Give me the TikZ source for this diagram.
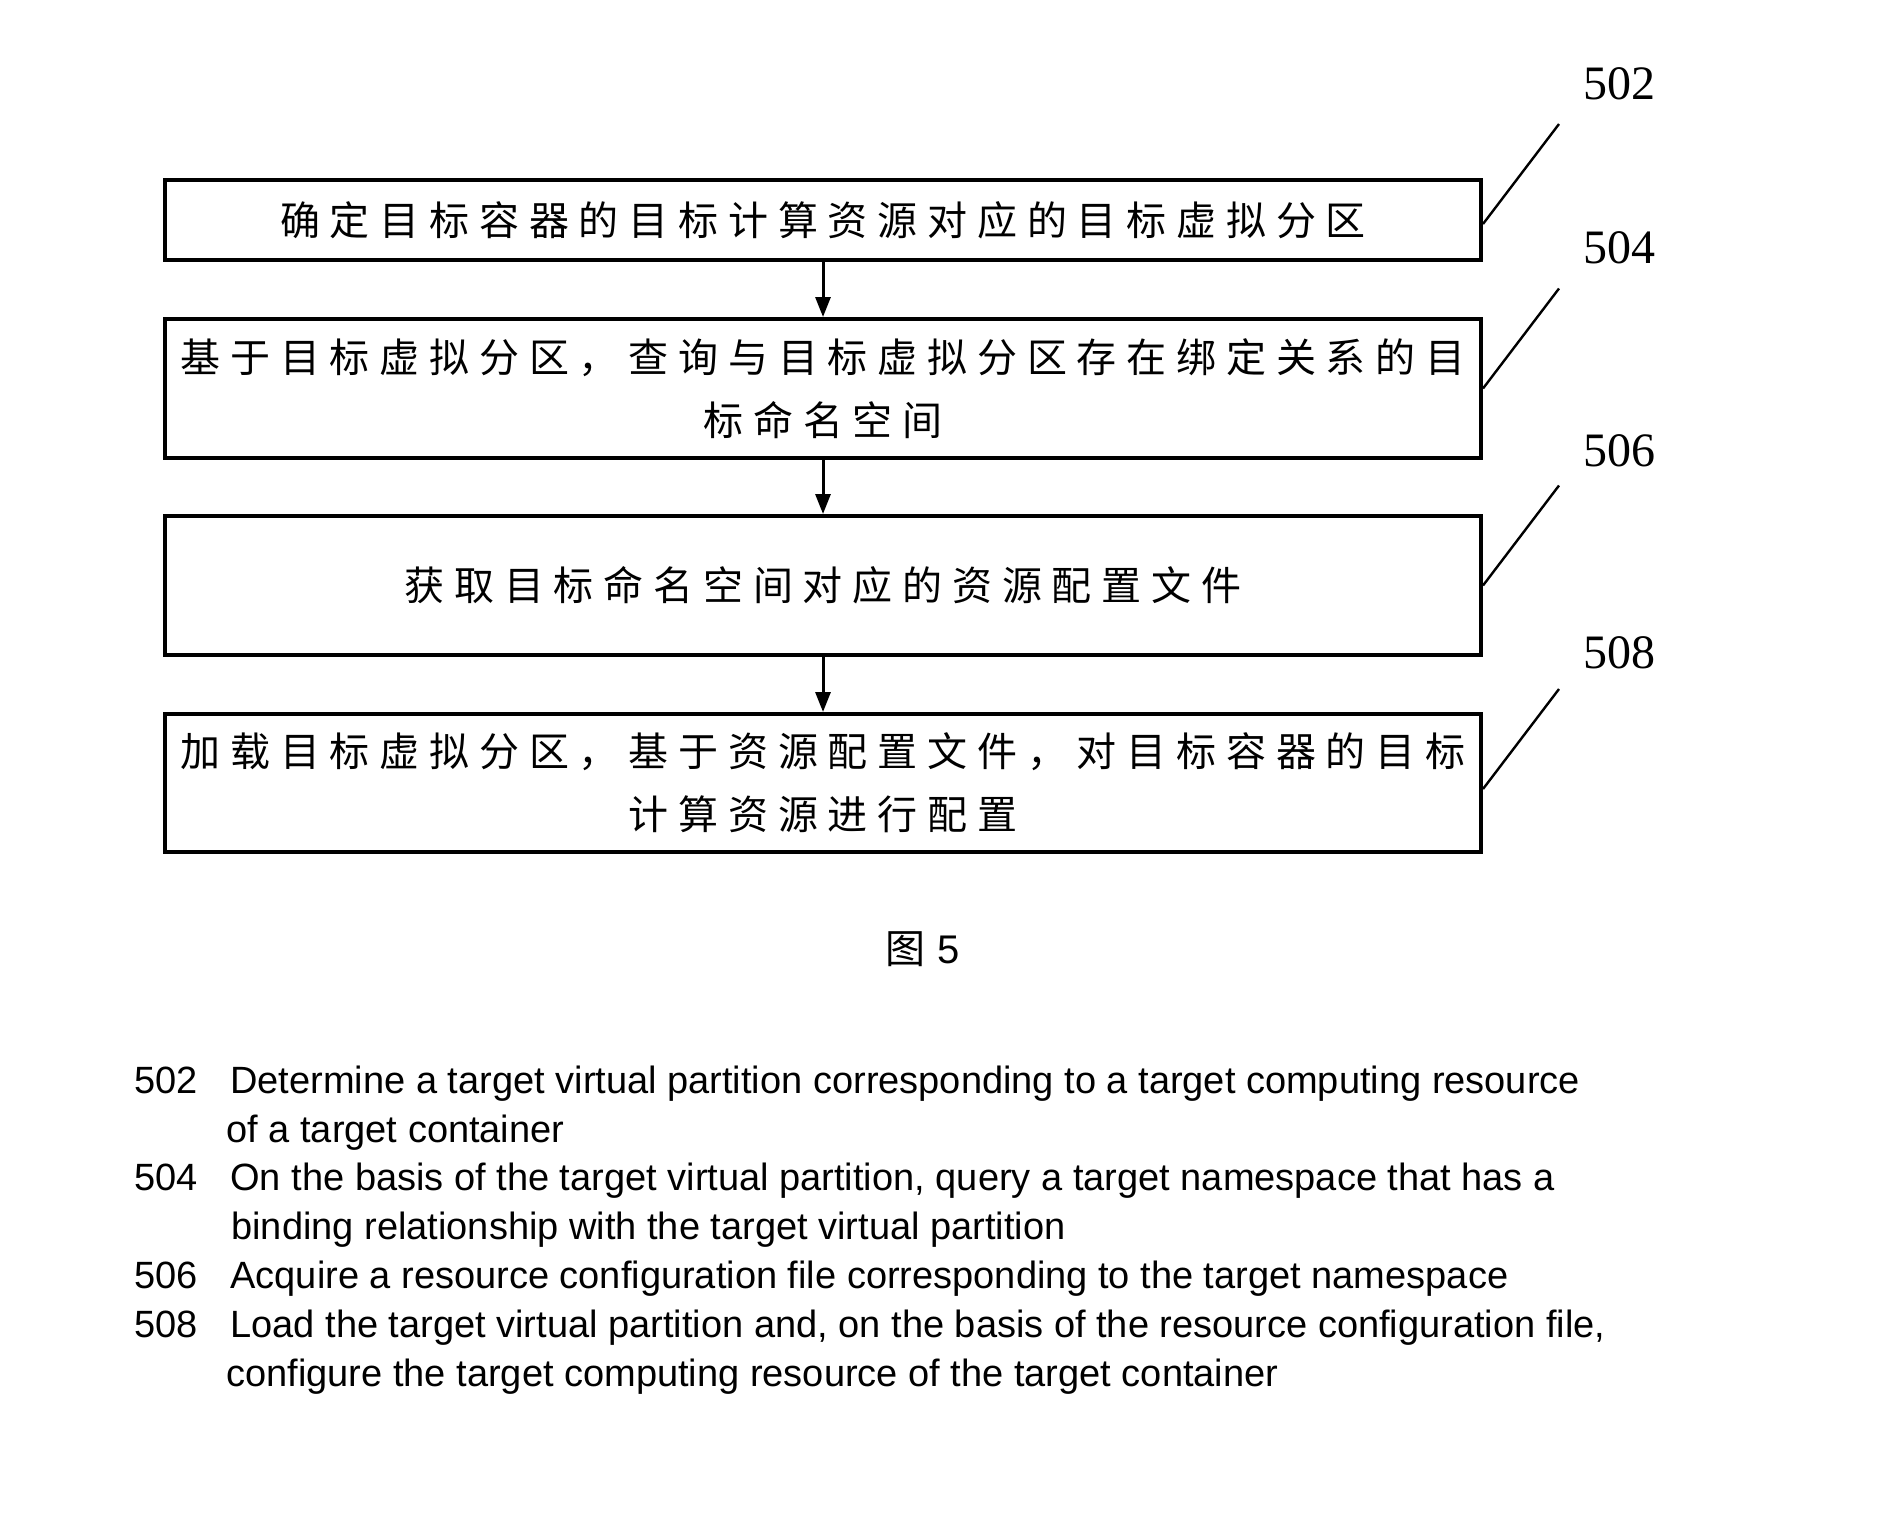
\documentclass[tikz,border=0pt]{standalone}
\usepackage{fontspec}
\setmainfont{Liberation Serif}
\newfontfamily\cjk[LetterSpace=24.5]{Noto Sans CJK SC}
\newfontfamily\arial{Liberation Sans}
\usetikzlibrary{arrows.meta,positioning}

\begin{document}
\begin{tikzpicture}[x=0.5pt,y=-0.5pt,
  box/.style={draw,line width=2pt,minimum width=658pt,inner sep=0pt,align=center,font=\cjk\fontsize{20}{31.5}\selectfont},
  arr/.style={-{Triangle[length=10pt,width=7.5pt]},line width=1.5pt},
  lead/.style={line width=1.2pt},
  num/.style={font=\fontsize{24}{24}\selectfont,inner sep=0pt},
  leg/.style={anchor=base west,inner sep=0pt,font=\arial\fontsize{19}{24.5}\selectfont}]
  \useasboundingbox (0,0) rectangle (1879,1536);
  % flow steps
  \node[box,minimum height=40pt] (det) at (823,220) {确定目标容器的目标计算资源对应的目标虚拟分区};
  \node[box,minimum height=69.5pt] (qry) at (823,388.5) {基于目标虚拟分区，查询与目标虚拟分区存在绑定关系的目\\标命名空间};
  \node[box,minimum height=69.5pt] (acq) at (823,585.5) {获取目标命名空间对应的资源配置文件};
  \node[box,minimum height=69pt] (load) at (823,783) {加载目标虚拟分区，基于资源配置文件，对目标容器的目标\\计算资源进行配置};
  \draw[arr] (det)--(qry); \draw[arr] (qry)--(acq); \draw[arr] (acq)--(load);
  % reference numerals
  \node[num] (n502) at (1619,84) {502};
  \node[num] (n504) at (1619,248) {504};
  \node[num] (n506) at (1619,451) {506};
  \node[num] (n508) at (1619,653) {508};
  \draw[lead] ([yshift=-2pt]det.east) -- ++(76,-100) coordinate (e502);
  \draw[lead] (qry.east) -- ++(76,-100) coordinate (e504);
  \draw[lead] (acq.east) -- ++(76,-100) coordinate (e506);
  \draw[lead] ([yshift=-3pt]load.east) -- ++(76,-100) coordinate (e508);
  \node[font=\cjk\fontsize{20}{20}\selectfont] (fig) at (923,949) {图\hspace{6pt}{\arial 5}};
  % legend
  \node[leg] (k502) at (134,1093) {502};
  \node[leg] (t502a) at (230,1093) {Determine a target virtual partition corresponding to a target computing resource};
  \node[leg] (t502b) at (226,1142) {of a target container};
  \node[leg] (k504) at (134,1190) {504};
  \node[leg] (t504a) at (230,1190) {On the basis of the target virtual partition, query a target namespace that has a};
  \node[leg] (t504b) at (231,1239) {binding relationship with the target virtual partition};
  \node[leg] (k506) at (134,1288) {506};
  \node[leg] (t506) at (230,1288) {Acquire a resource configuration file corresponding to the target namespace};
  \node[leg] (k508) at (134,1337) {508};
  \node[leg] (t508a) at (230,1337) {Load the target virtual partition and, on the basis of the resource configuration file,};
  \node[leg] (t508b) at (226,1386) {configure the target computing resource of the target container};
\end{tikzpicture}
\end{document}
